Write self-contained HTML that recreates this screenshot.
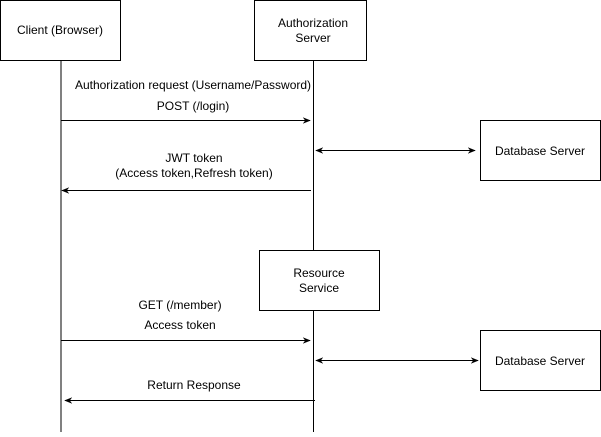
<!DOCTYPE html>
<html><head><style>body{margin:0;background:#fff}</style></head><body>
<svg width="601" height="432" xmlns="http://www.w3.org/2000/svg" font-family="Liberation Sans, Arial, sans-serif" font-size="12" fill="#000">
<defs><marker id="a" viewBox="0 0 10 10" refX="9" refY="5" markerWidth="8" markerHeight="8" orient="auto-start-reverse" markerUnits="userSpaceOnUse"><path d="M0,1 L10,5 L0,9 L3,5 Z" fill="#000"/></marker></defs>
<g stroke="#000" stroke-width="1" fill="#fff">
<rect x="0.5" y="0.5" width="120" height="60"/>
<rect x="254.5" y="0.5" width="112" height="60"/>
<rect x="259.5" y="250.5" width="120" height="60"/>
<rect x="480.5" y="120.5" width="120" height="60"/>
<rect x="480.5" y="330.5" width="120" height="60"/>
<line x1="61" y1="61" x2="61" y2="432"/>
<line x1="313.5" y1="61" x2="313.5" y2="250"/>
<line x1="313.5" y1="311" x2="313.5" y2="432"/>
<line x1="61" y1="120.5" x2="310" y2="120.5" marker-end="url(#a)"/>
<line x1="316" y1="150.5" x2="475" y2="150.5" marker-start="url(#a)" marker-end="url(#a)"/>
<line x1="311" y1="190.5" x2="62" y2="190.5" marker-end="url(#a)"/>
<line x1="61" y1="340.5" x2="310" y2="340.5" marker-end="url(#a)"/>
<line x1="316" y1="360.5" x2="478" y2="360.5" marker-start="url(#a)" marker-end="url(#a)"/>
<line x1="315" y1="400.5" x2="65" y2="400.5" marker-end="url(#a)"/>
</g>
<g text-anchor="middle">
<text x="60" y="34">Client (Browser)</text>
<text x="313" y="27">Authorization</text>
<text x="313" y="42">Server</text>
<text x="319" y="277">Resource</text>
<text x="319" y="292">Service</text>
<text x="540" y="155">Database Server</text>
<text x="540" y="365">Database Server</text>
<text x="193" y="89">Authorization request (Username/Password)</text>
<text x="193" y="110">POST (/login)</text>
<text x="194" y="162">JWT token</text>
<text x="194" y="177">(Access token,Refresh token)</text>
<text x="180" y="309">GET (/member)</text>
<text x="180" y="329">Access token</text>
<text x="194" y="389">Return Response</text>
</g>
</svg>
</body></html>
